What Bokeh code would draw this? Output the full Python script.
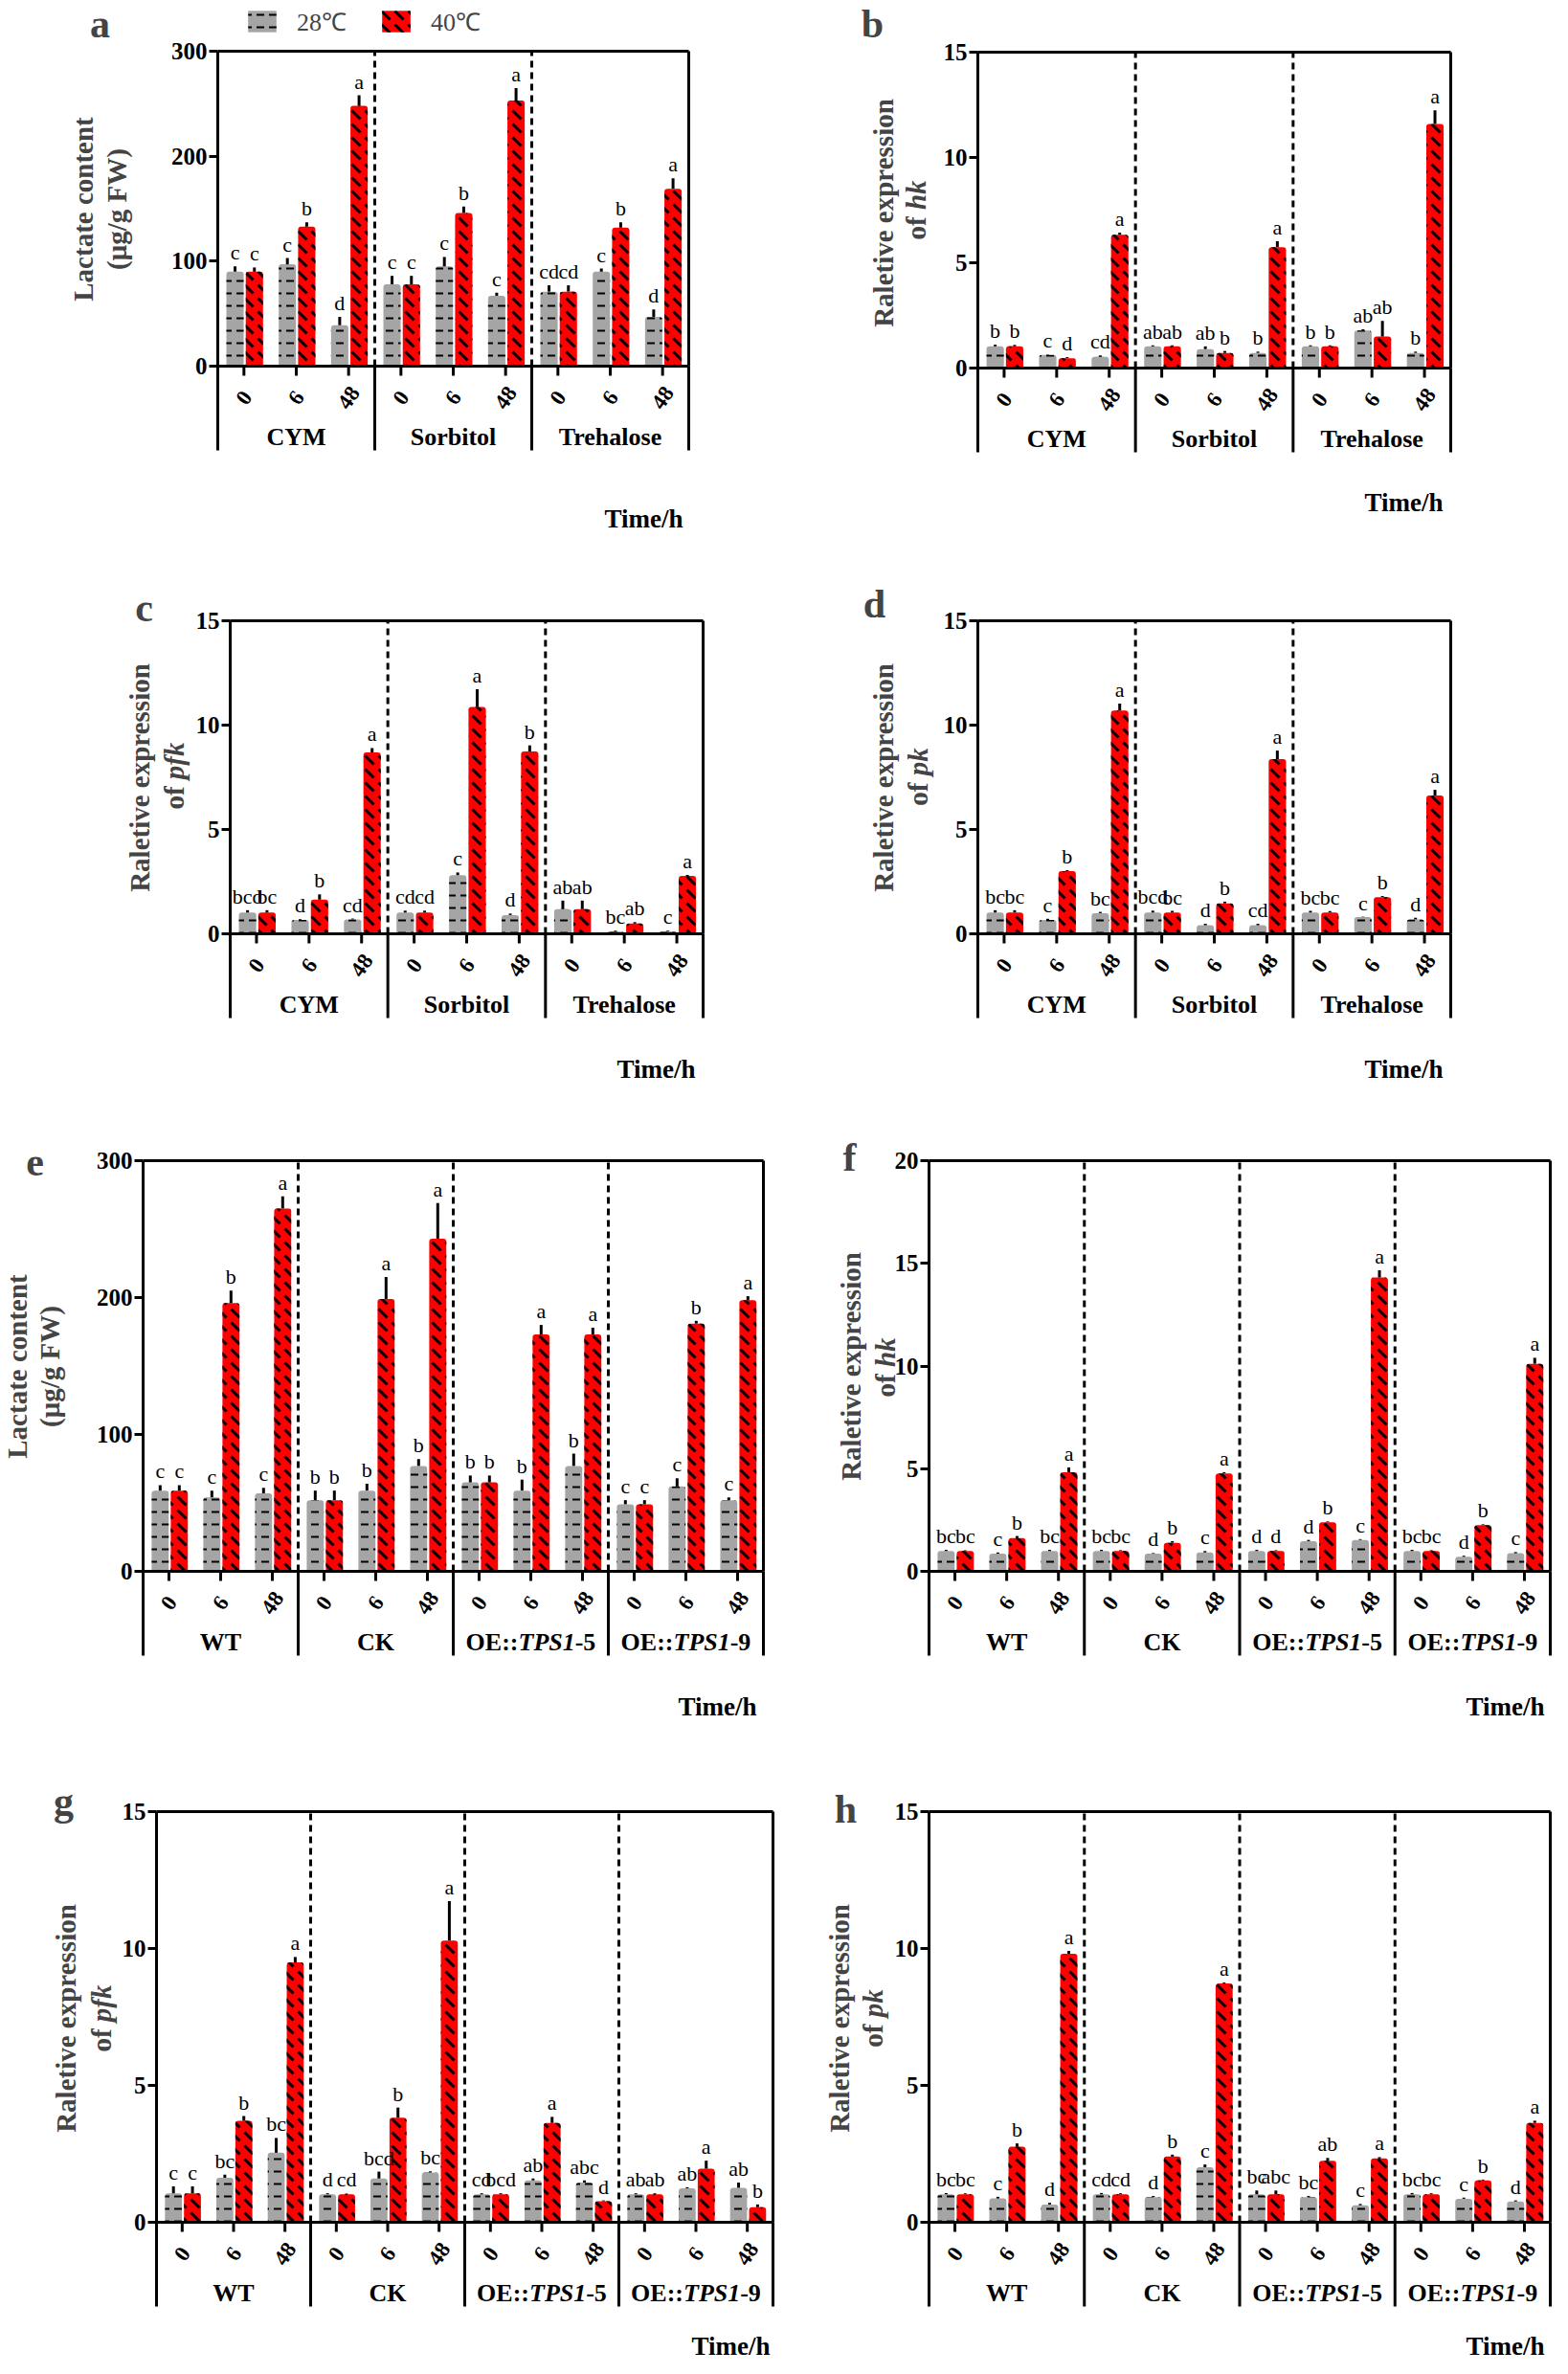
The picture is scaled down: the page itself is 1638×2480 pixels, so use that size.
import math
from bokeh.plotting import figure
from bokeh.models import Range1d, FixedTicker, Label, Legend, LegendItem, LinearAxis
from bokeh.layouts import column, row
from bokeh.core.properties import value
from bokeh.embed import file_html
from bokeh.resources import INLINE

# ---------------- data ----------------
times = ["0", "6", "48"]
media = ["CYM", "Sorbitol", "Trehalose"]
lines = ["WT", "CK", "OE::TPS1-5", "OE::TPS1-9"]
legend_labels = ["28℃", "40℃"]
lactate_ticks = [0, 100, 200, 300]
expr15_ticks = [0, 5, 10, 15]
expr20_ticks = [0, 5, 10, 15, 20]

# a: lactate, media
a_28 = [90, 97, 39, 78, 95, 67, 71, 90, 47]
a_28_err = [5, 6, 8, 8, 9, 3, 6, 3, 7]
a_40 = [90, 133, 248, 78, 146, 253, 71, 132, 169]
a_40_err = [4, 4, 10, 8, 6, 12, 6, 5, 10]
a_28_sig = ["c", "c", "d", "c", "c", "c", "cd", "c", "d"]
a_40_sig = ["c", "b", "a", "c", "b", "a", "cd", "b", "a"]

# b: hk, media
b_28 = [1.03, 0.62, 0.53, 1.03, 0.90, 0.72, 1.03, 1.78, 0.72]
b_28_err = [0.08, 0.02, 0.07, 0.05, 0.13, 0.06, 0.05, 0.06, 0.06]
b_40 = [1.03, 0.47, 6.33, 1.03, 0.72, 5.74, 1.03, 1.50, 11.59]
b_40_err = [0.07, 0.05, 0.10, 0.05, 0.09, 0.28, 0.05, 0.74, 0.65]
b_28_sig = ["b", "c", "cd", "ab", "ab", "b", "b", "ab", "b"]
b_40_sig = ["b", "d", "a", "ab", "b", "a", "b", "ab", "a"]

# c: pfk, media
c_28 = [1.02, 0.66, 0.69, 1.02, 2.81, 0.90, 1.18, 0.11, 0.11]
c_28_err = [0.11, 0.04, 0.04, 0.09, 0.13, 0.07, 0.41, 0.04, 0.04]
c_40 = [1.02, 1.64, 8.69, 1.02, 10.87, 8.74, 1.18, 0.49, 2.77]
c_40_err = [0.11, 0.25, 0.21, 0.09, 0.85, 0.29, 0.41, 0.07, 0.05]
c_28_sig = ["bcd", "d", "cd", "cd", "c", "d", "ab", "bc", "c"]
c_40_sig = ["bc", "b", "a", "cd", "a", "b", "ab", "ab", "a"]

# d: pk, media
d_28 = [1.02, 0.66, 0.99, 1.02, 0.41, 0.41, 1.02, 0.80, 0.69]
d_28_err = [0.11, 0.06, 0.06, 0.09, 0.07, 0.07, 0.08, 0.02, 0.08]
d_40 = [1.02, 3.00, 10.70, 1.02, 1.46, 8.37, 1.02, 1.76, 6.63]
d_40_err = [0.11, 0.05, 0.33, 0.08, 0.08, 0.41, 0.07, 0.05, 0.27]
d_28_sig = ["bc", "c", "bc", "bcd", "d", "cd", "bc", "c", "d"]
d_40_sig = ["bc", "b", "a", "bc", "b", "a", "bc", "b", "a"]

# e: lactate, lines
e_28 = [59, 54, 57, 52, 59, 77, 65, 59, 77, 49, 62, 52]
e_28_err = [4, 5, 4, 7, 5, 5, 5, 8, 9, 3, 6, 2]
e_40 = [59, 196, 265, 52, 199, 243, 65, 173, 173, 49, 181, 198]
e_40_err = [4, 9, 9, 7, 16, 26, 5, 7, 5, 3, 2, 3]
e_28_sig = ["c", "c", "c", "b", "b", "b", "b", "b", "b", "c", "c", "c"]
e_40_sig = ["c", "b", "a", "b", "a", "a", "b", "a", "a", "c", "b", "a"]

# f: hk, lines
f_28 = [0.99, 0.86, 0.99, 0.99, 0.86, 0.92, 0.99, 1.47, 1.53, 0.99, 0.71, 0.88]
f_28_err = [0.06, 0.06, 0.06, 0.06, 0.03, 0.07, 0.06, 0.06, 0.04, 0.06, 0.05, 0.06]
f_40 = [0.99, 1.62, 4.83, 0.99, 1.39, 4.77, 0.99, 2.39, 14.31, 0.99, 2.25, 10.11]
f_40_err = [0.04, 0.10, 0.23, 0.04, 0.08, 0.06, 0.04, 0.04, 0.35, 0.04, 0.04, 0.29]
f_28_sig = ["bc", "c", "bc", "bc", "d", "c", "d", "d", "c", "bc", "d", "c"]
f_40_sig = ["bc", "b", "a", "bc", "b", "a", "d", "b", "a", "bc", "b", "a"]

# g: pfk, lines
g_28 = [1.06, 1.63, 2.54, 1.02, 1.60, 1.82, 1.02, 1.53, 1.45, 1.02, 1.24, 1.26]
g_28_err = [0.25, 0.11, 0.54, 0.04, 0.25, 0.04, 0.04, 0.07, 0.08, 0.04, 0.04, 0.19]
g_40 = [1.06, 3.71, 9.49, 1.02, 3.82, 10.29, 1.02, 3.63, 0.77, 1.02, 1.96, 0.55]
g_40_err = [0.25, 0.17, 0.20, 0.03, 0.37, 1.44, 0.04, 0.22, 0.03, 0.04, 0.29, 0.10]
g_28_sig = ["c", "bc", "bc", "d", "bcd", "bc", "cd", "ab", "abc", "ab", "ab", "ab"]
g_40_sig = ["c", "b", "a", "cd", "b", "a", "bcd", "a", "d", "ab", "a", "b"]

# h: pk, lines
h_28 = [1.02, 0.87, 0.65, 1.02, 0.92, 2.01, 1.02, 0.92, 0.62, 1.02, 0.86, 0.76]
h_28_err = [0.05, 0.06, 0.06, 0.05, 0.04, 0.10, 0.14, 0.04, 0.05, 0.05, 0.04, 0.04]
h_40 = [1.02, 2.76, 9.81, 1.02, 2.40, 8.72, 1.02, 2.25, 2.33, 1.02, 1.53, 3.63]
h_40_err = [0.04, 0.12, 0.10, 0.04, 0.07, 0.04, 0.14, 0.10, 0.05, 0.04, 0.03, 0.08]
h_28_sig = ["bc", "c", "d", "cd", "d", "c", "bc", "bc", "c", "bc", "c", "d"]
h_40_sig = ["bc", "b", "a", "cd", "b", "a", "abc", "ab", "a", "bc", "b", "a"]

# ---------------- style ----------------
FONT = "Liberation Serif"
GRAY = "#A5A5A5"
RED = "#FF0000"
BRACKET_PX = 88
YLAB_SIZE = 29


def put_text(p, x, y, text, size, align="center", baseline="middle", style="bold", angle=0.0):
    return p.text(x=x, y=y, text=text, text_font=value(FONT), text_font_style=style,
                  text_font_size=size, text_align=align, text_baseline=baseline,
                  angle=angle, text_color="black")


def make_panel(fig_box, frame_box, groups, v28, e28, v40, e40, s28, s40, yticks,
               ylab1, ylab2, letter, letter_xy, ylab1_xy, ylab2_xy, time_xy, legend=False):
    fx, fy, W, H = fig_box
    L, R, T, Z = frame_box
    ymax = yticks[-1]
    nt = len(times)
    N = len(groups) * nt
    sx = (R - L) / N
    u = ymax / (Z - T)

    def X(px):
        return (px - L) / sx

    def Y(py):
        return (Z - py) * u

    p = figure(width=W, height=H, output_backend="svg", toolbar_location=None,
               x_axis_location=None, y_axis_location=None,
               x_range=Range1d(X(fx), X(fx + W)),
               y_range=Range1d(Y(fy + H), Y(fy)),
               min_border_left=0, min_border_right=0,
               min_border_top=0, min_border_bottom=0)
    p.grid.visible = False
    p.outline_line_color = None
    p.background_fill_color = "white"
    p.border_fill_color = "white"

    ax = LinearAxis(fixed_location=0)
    ax.ticker = FixedTicker(ticks=yticks)
    ax.bounds = (Y(Z + BRACKET_PX), ymax)
    ax.axis_line_width = 3
    ax.major_tick_line_width = 3
    ax.major_tick_out = 9
    ax.major_tick_in = 0
    ax.minor_tick_line_color = None
    ax.major_label_text_font = FONT
    ax.major_label_text_font_style = "bold"
    ax.major_label_text_font_size = "25px"
    ax.major_label_standoff = 2
    ax.major_label_text_color = "black"
    p.add_layout(ax, "left")

    xc = [i + 0.5 for i in range(N)]
    x28 = [c - 0.17 for c in xc]
    x40 = [c + 0.20 for c in xc]
    bw = 0.33

    # dashed group separators
    sep = [nt * k for k in range(1, len(groups))]
    p.segment(x0=sep, y0=[0] * len(sep), x1=sep, y1=[ymax] * len(sep),
              line_color="black", line_width=3, line_dash="7 5")

    r28 = p.vbar(x=x28, top=v28, bottom=0, width=bw, fill_color=GRAY, line_color=None,
                 hatch_pattern="horizontal_dash", hatch_color="black", hatch_weight=2,
                 hatch_scale=13, border_radius=(3, 3, 0, 0))
    r40 = p.vbar(x=x40, top=v40, bottom=0, width=bw, fill_color=RED, line_color=None,
                 hatch_pattern="left_diagonal_dash", hatch_color="black", hatch_weight=3,
                 hatch_scale=14, border_radius=(3, 3, 0, 0))

    t28 = [v + e for v, e in zip(v28, e28)]
    t40 = [v + e for v, e in zip(v40, e40)]
    p.segment(x0=x28, y0=v28, x1=x28, y1=t28, line_color="black", line_width=3)
    p.segment(x0=x40, y0=v40, x1=x40, y1=t40, line_color="black", line_width=3)

    gap = 2 * u
    put_text(p, x28, [t + gap for t in t28], s28, "22px", baseline="bottom", style="normal")
    put_text(p, x40, [t + gap for t in t40], s40, "22px", baseline="bottom", style="normal")

    # frame lines: x axis, top border, right border
    p.segment(x0=[0, 0], y0=[0, ymax], x1=[N, N], y1=[0, ymax], line_color="black", line_width=3)
    br = [nt * k for k in range(1, len(groups) + 1)]
    p.segment(x0=br, y0=[Y(Z + BRACKET_PX)] * len(br), x1=br, y1=[0] * len(br),
              line_color="black", line_width=3)
    p.segment(x0=[N], y0=[0], x1=[N], y1=[ymax], line_color="black", line_width=3)

    # x ticks and rotated labels
    p.segment(x0=xc, y0=[0] * N, x1=xc, y1=[Y(Z + 10)] * N, line_color="black", line_width=3)
    put_text(p, xc, [Y(Z + 33)] * N, times * len(groups), "23px", angle=math.radians(55))

    # group labels
    gy = Y(Z + 74)
    for k, g in enumerate(groups):
        gc = nt * k + nt / 2
        if g.startswith("OE::"):
            parts = ["OE::", g[4:8], g[8:]]
            widths = [54.9, 59.2, 21.7]
            styles = ["bold", "bold italic", "bold"]
            pos = gc - sum(widths) / 2 / sx
            for part, w, st in zip(parts, widths, styles):
                put_text(p, [pos], [gy], [part], "26px", align="left", style=st)
                pos += w / sx
        else:
            put_text(p, [gc], [gy], [g], "26px")

    # Time/h
    put_text(p, [X(time_xy[0])], [Y(time_xy[1])], ["Time/h"], "27px")

    # panel letter
    p.add_layout(Label(x=X(letter_xy[0]), y=Y(letter_xy[1]), text=letter, text_font=FONT,
                       text_font_style="bold", text_font_size="42px",
                       text_align="center", text_baseline="middle"))
    # y label
    fs = "%dpx" % YLAB_SIZE
    p.add_layout(Label(x=X(ylab1_xy[0]), y=Y(ylab1_xy[1]), text=ylab1, angle=math.pi / 2,
                       text_font=FONT, text_font_style="bold", text_font_size=fs,
                       text_align="center", text_baseline="middle"))
    if isinstance(ylab2, tuple):
        w_plain, w_it = ylab2[2] * YLAB_SIZE, ylab2[3] * YLAB_SIZE
        total = w_plain + w_it
        y_start = ylab2_xy[1] + total / 2
        p.add_layout(Label(x=X(ylab2_xy[0]), y=Y(y_start), text=ylab2[0], angle=math.pi / 2,
                           text_font=FONT, text_font_style="bold", text_font_size=fs,
                           text_align="left", text_baseline="middle"))
        p.add_layout(Label(x=X(ylab2_xy[0]), y=Y(y_start - w_plain), text=ylab2[1],
                           angle=math.pi / 2, text_font=FONT, text_font_style="bold italic",
                           text_font_size=fs, text_align="left", text_baseline="middle"))
    else:
        p.add_layout(Label(x=X(ylab2_xy[0]), y=Y(ylab2_xy[1]), text=ylab2, angle=math.pi / 2,
                           text_font=FONT, text_font_style="bold", text_font_size=fs,
                           text_align="center", text_baseline="middle"))

    if legend:
        lg = Legend(items=[LegendItem(label=legend_labels[0], renderers=[r28]),
                           LegendItem(label=legend_labels[1], renderers=[r40])],
                    orientation="horizontal", location=(int(L - fx + 28), H - 40),
                    border_line_color=None, background_fill_alpha=0,
                    label_text_font=FONT, label_text_font_size="26px",
                    glyph_width=37, glyph_height=28, label_standoff=18, spacing=33,
                    padding=0, margin=0)
        p.add_layout(lg)
    return p


LAC1 = "Lactate content"
LAC2 = "(μg/g FW)"
EXP1 = "Raletive expression"
# (upright part, italic part, widths in em)
HK2 = ("of ", "hk", 1.083, 1.056)
PFK2 = ("of ", "pfk", 1.083, 1.333)
PK2 = ("of ", "pk", 1.083, 1.0)

pa = make_panel((8, 8, 820, 590), (235, 727, 61, 390), media, a_28, a_28_err, a_40, a_40_err,
                a_28_sig, a_40_sig, lactate_ticks, LAC1, LAC2, "a", (112, 32), (94, 226), (129, 226),
                (680, 549), legend=True)
pb = make_panel((828, 8, 802, 590), (1029, 1523, 62, 392), media, b_28, b_28_err, b_40, b_40_err,
                b_28_sig, b_40_sig, expr15_ticks, EXP1, HK2, "b", (919, 32), (930, 230), (964, 227),
                (1474, 532))
pc = make_panel((8, 598, 820, 592), (248, 742, 656, 983), media, c_28, c_28_err, c_40, c_40_err,
                c_28_sig, c_40_sig, expr15_ticks, EXP1, PFK2, "c", (158, 642), (153, 820), (189, 818),
                (693, 1124))
pd_ = make_panel((828, 598, 802, 592), (1029, 1523, 656, 983), media, d_28, d_28_err, d_40, d_40_err,
                 d_28_sig, d_40_sig, expr15_ticks, EXP1, PK2, "d", (921, 638), (930, 820), (966, 819),
                 (1474, 1124))
pe = make_panel((8, 1190, 820, 650), (157, 805, 1220, 1649), lines, e_28, e_28_err, e_40, e_40_err,
                e_28_sig, e_40_sig, lactate_ticks, LAC1, LAC2, "e", (44, 1221), (25, 1435), (59, 1435),
                (757, 1790))
pf = make_panel((828, 1190, 802, 650), (978, 1627, 1220, 1649), lines, f_28, f_28_err, f_40, f_40_err,
                f_28_sig, f_40_sig, expr20_ticks, EXP1, HK2, "f", (895, 1216), (896, 1435), (932, 1436),
                (1580, 1790))
pg = make_panel((8, 1840, 820, 632), (171, 815, 1900, 2329), lines, g_28, g_28_err, g_40, g_40_err,
                g_28_sig, g_40_sig, expr15_ticks, EXP1, PFK2, "g", (74, 1889), (76, 2116), (113, 2116),
                (771, 2458))
ph = make_panel((828, 1840, 802, 632), (978, 1627, 1900, 2329), lines, h_28, h_28_err, h_40, h_40_err,
                h_28_sig, h_40_sig, expr15_ticks, EXP1, PK2, "h", (891, 1897), (884, 2116), (919, 2116),
                (1580, 2458))

layout = column(row(pa, pb), row(pc, pd_), row(pe, pf), row(pg, ph))
open("out.html", "w").write(file_html(layout, INLINE))
